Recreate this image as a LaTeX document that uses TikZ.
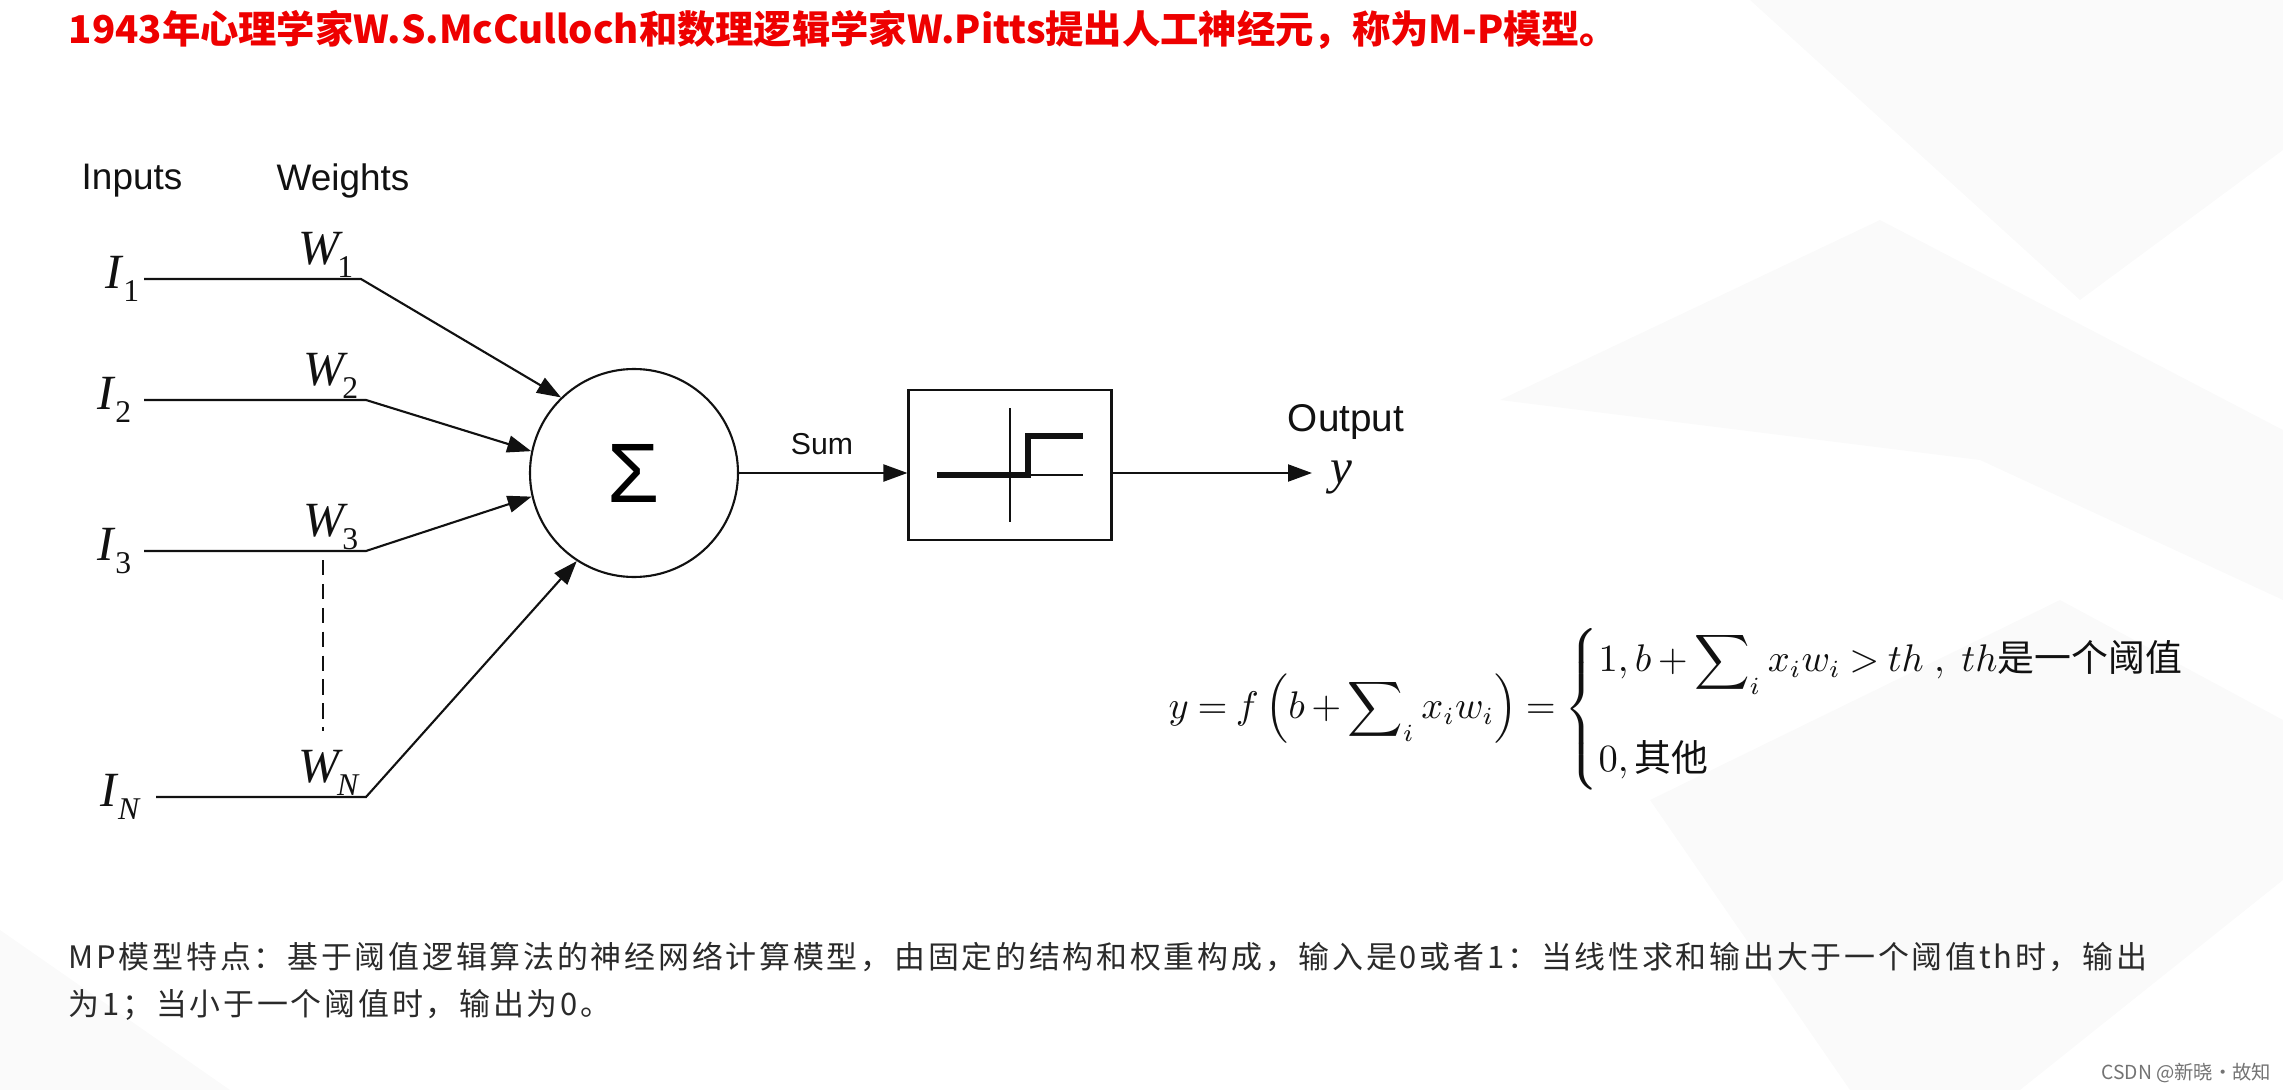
\documentclass[tikz,border=0pt]{standalone}
\usepackage{amsmath}
\usepackage{fontspec}
\setmainfont{Liberation Sans}
\newfontfamily\tms{Liberation Serif}
\newfontfamily\cjk{Noto Sans CJK SC}
\newfontfamily\cjkwide[LetterSpace=9]{Noto Sans CJK SC}
\usetikzlibrary{arrows.meta,positioning,calc}
\definecolor{mptitle}{HTML}{EE0000}
\definecolor{mptext}{HTML}{2A2A2A}
\definecolor{mpink}{HTML}{111111}
\definecolor{mpshade}{HTML}{000000}
\newcommand{\sublbl}[3][0em]{{\tms\itshape #2}\kern#1\raisebox{-1.3mm}{\fontsize{9pt}{9pt}\selectfont\tms #3}}
\tikzset{
  wire/.style={line width=0.6pt,draw=mpink},
  arr/.style={-{Triangle[length=2.4mm,width=1.7mm]},line width=0.6pt,draw=mpink},
  sanslbl/.style={font=\fontsize{10.5pt}{12pt}\selectfont,text=mpink,inner sep=0},
  mathlbl/.style={font=\fontsize{14pt}{16pt}\selectfont,text=mpink,inner sep=0},
  shade/.style={fill=mpshade,fill opacity=0.02},
}

\begin{document}
\begin{tikzpicture}[x=0.1mm,y=-0.1mm,
  neuron/.style={circle,draw=mpink,line width=0.6pt,minimum size=20.8mm,inner sep=0},
  stepbox/.style={draw=mpink,line width=0.6pt,minimum width=20.3mm,minimum height=15mm,inner sep=0}]
  \useasboundingbox (0,0) rectangle (2283,1090);
  \fill[white] (0,0) rectangle (2283,1090);
  \fill[shade] (1750,0) -- (2283,0) -- (2283,150) -- (2080,300) -- cycle;
  \fill[shade] (1500,400) -- (1880,220) -- (2283,430) -- (2283,600) -- (1980,460) -- cycle;
  \fill[shade] (1650,800) -- (2060,600) -- (2283,720) -- (2283,880) -- (2020,1090) -- (1850,1090) -- cycle;
  \fill[shade] (0,930) -- (230,1090) -- (0,1090) -- cycle;
  \fill[white] (55,135) rectangle (1430,830);

  \node[font=\cjk\bfseries\fontsize{10.9pt}{12pt}\selectfont,text=mptitle,anchor=west,inner sep=0] (title) at (68,30) {1943年心理学家W.S.McCulloch和数理逻辑学家W.Pitts提出人工神经元，称为M-P模型。};

  \node[sanslbl] (inputs) at (132,181) {Inputs};
  \node[sanslbl] (weights) at (343,181) {Weights};

  \node[neuron] (sum) at (634,473) {\fontsize{24pt}{24pt}\selectfont Σ};
  \node[stepbox] (act) at (1010,465) {};
  \begin{scope}[shift={(act.center)}]
    \draw[line width=0.5pt,draw=mpink] (0,-57) -- (0,57);
    \draw[line width=0.5pt,draw=mpink] (-73,10) -- (73,10);
    \draw[line width=1.6pt,draw=mpink] (-73,10) -- (18,10) -- (18,-29) -- (73,-29);
  \end{scope}

  \foreach \k/\sb/\yy/\bx/\sx/\lx/\ang in {1/1/279/361/144/140/134, 2/2/400/366/144/132/168,
      3/3/551/366/144/132/193, N/{\itshape N}/797/366/156/140/237}{
    \coordinate (in\k) at (\sx,\yy);
    \coordinate (bd\k) at (\bx,\yy);
    \node[mathlbl,anchor=base east] (I\k) at (\lx,\yy+9) {\sublbl[0.03em]{I}{\sb}};
    \node[mathlbl,anchor=base east] (W\k) at (\bx-7,\yy-15) {\sublbl[-0.04em]{W}{\sb}};
    \draw[arr] (in\k) -- (bd\k) -- (sum.\ang);
  }
  \coordinate (dtop) at (323,560);
  \coordinate (dbot) at (323,731);
  \draw[wire,dash pattern=on 4.3pt off 2.5pt] (dtop) -- (dbot);

  \draw[arr] (sum.east) -- (sum.east -| act.west);
  \node[sanslbl,font=\fontsize{8.6pt}{10pt}\selectfont] (sumlbl) at (822,444) {Sum};

  \node[sanslbl,font=\fontsize{11pt}{12pt}\selectfont] (outlbl) at (1346,422) {Output};
  \node[mathlbl,anchor=west] (yo) at (1330,478) {\tms\itshape y};
  \draw[arr,shorten >=1.8mm] (act.east |- sum.east) -- (yo.west |- sum.east);

  \node[anchor=west,inner sep=0,text=mpink,font=\fontsize{10.5pt}{12pt}\selectfont] (formula) at (1168,709)
    {\medmuskip=3mu\thickmuskip=4mu
     $\displaystyle y = f\left(b+\sum\nolimits_i x_i w_i\right) =
      \begin{cases} 1, b+\displaystyle\sum\nolimits_i x_i w_i > th\ ,\ th\text{\cjk 是一个阈值}\\[14pt]
      0,\text{\cjk 其他}\end{cases}$};

  \node[anchor=west,inner sep=0,text=mptext,font=\cjkwide\fontsize{8.8pt}{9pt}\selectfont] (note1) at (68,957)
    {MP模型特点：基于阈值逻辑算法的神经网络计算模型，由固定的结构和权重构成，输入是0或者1：当线性求和输出大于一个阈值th时，输出};
  \node[anchor=west,inner sep=0,text=mptext,font=\cjkwide\fontsize{8.8pt}{9pt}\selectfont] (note2) at (68,1005)
    {为1；当小于一个阈值时，输出为0。};
  \node[anchor=east,inner sep=0,text=black!55,font=\cjk\fontsize{5.5pt}{6pt}\selectfont] (mark) at (2272,1073) {CSDN @新晓·故知};
\end{tikzpicture}
\end{document}
